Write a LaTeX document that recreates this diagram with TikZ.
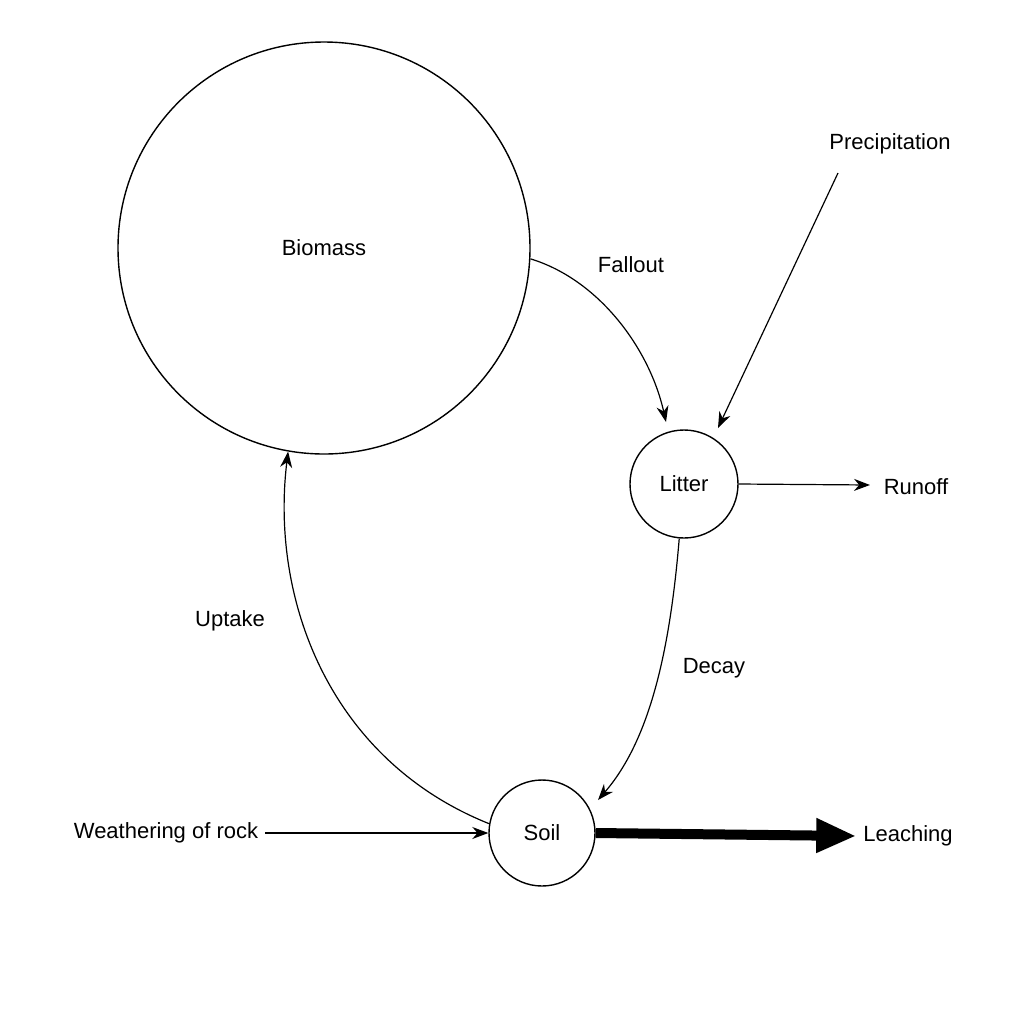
\documentclass[tikz,border=0pt]{standalone}
\usepackage{fontspec}
\setmainfont{Liberation Sans}
\usetikzlibrary{arrows.meta}
\begin{document}
\begin{tikzpicture}[x=0.5pt,y=-0.5pt,
  pool/.style={draw,circle,line width=0.7pt,inner sep=0pt},
  lab/.style={font=\fontsize{11}{13}\selectfont},
  flow/.style={-{Stealth[length=8pt,width=6pt]},line width=0.6pt}]
\useasboundingbox (0,0) rectangle (1024,1024);
\node[pool,minimum size=206pt] (bio) at (324,248) {};
\node[lab] at (324,248) {Biomass};
\node[pool,minimum size=54pt,lab] (lit) at (684,484) {Litter};
\node[pool,minimum size=53pt,lab] (soil) at (542,833) {Soil};
\node[lab] (fall) at (631,265) {Fallout};
\node[lab] (prec) at (890,144) {Precipitation};
\node[lab] (run) at (916,487) {Runoff};
\node[lab] (dec) at (714,668) {Decay};
\node[lab] (upt) at (230,621) {Uptake};
\node[lab] (wea) at (166,833) {Weathering of rock};
\node[lab] (lea) at (908,836) {Leaching};
\coordinate (pa) at (838,173);
\coordinate (ra) at (870,485);
\draw[flow] (bio.-3) .. controls (600,280) and (650,350) .. (666,422);
\draw[flow] (pa) -- (718,428);
\draw[flow] (lit.east) -- (ra);
\draw[flow] (lit.-95) .. controls (670,650) and (650,740) .. (598,800);
\draw[flow] (soil.170) .. controls (330,760) and (270,600) .. (bio.-100);
\draw[flow] (wea.east) -- (soil.west);
\draw[line width=5pt,-{Triangle[length=20pt,width=16pt]}] (soil.east) -- (lea.west);
\end{tikzpicture}
\end{document}
